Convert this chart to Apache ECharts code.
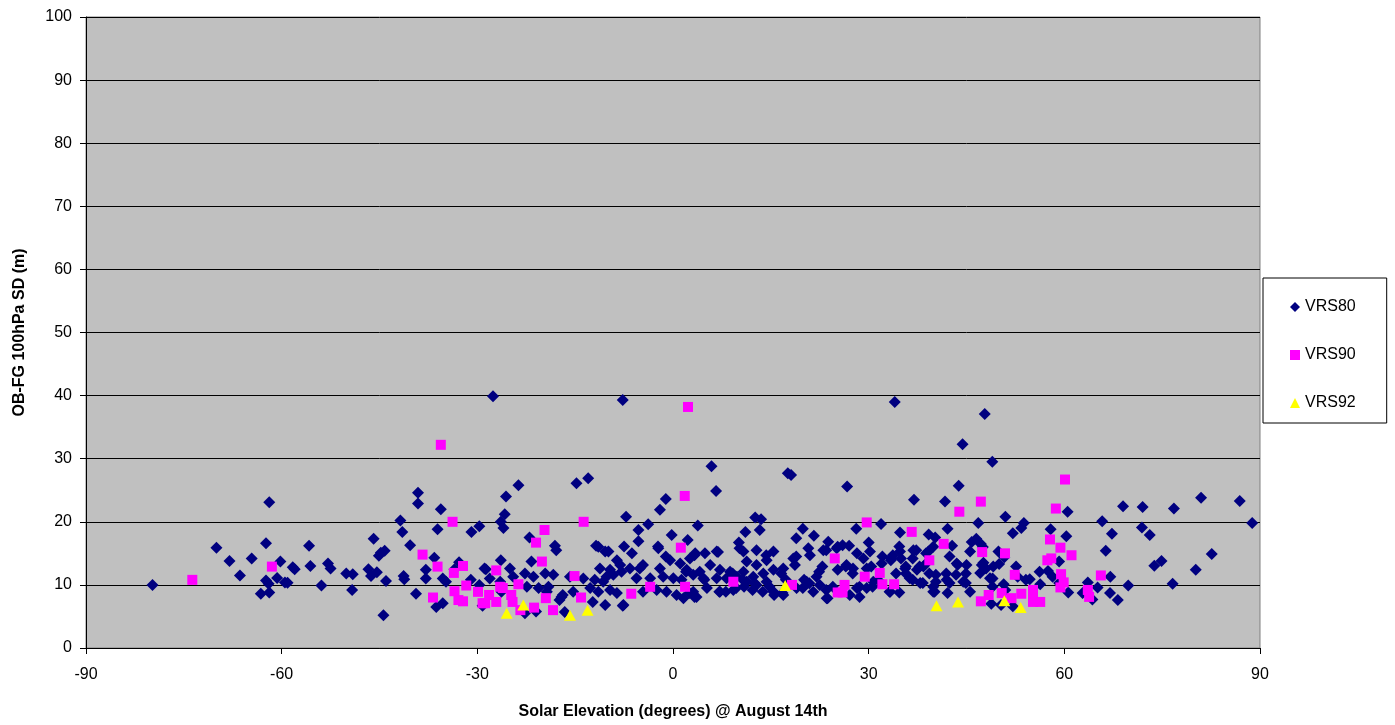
<!DOCTYPE html>
<html>
<head>
<meta charset="utf-8">
<script src="https://cdn.jsdelivr.net/npm/echarts@6/dist/echarts.min.js"></script>
<style>html,body{margin:0;padding:0;background:#fff}#c{width:1395px;height:725px}</style>
</head>
<body>
<div id="c"></div>
<script>
var xTicks = [-90, -60, -30, 0, 30, 60, 90];
var yTicks = [0, 10, 20, 30, 40, 50, 60, 70, 80, 90, 100];
var seriesNames = ['VRS80', 'VRS90', 'VRS92'];

var vrs80 = [
[-79.8,10.0],[-70.0,15.9],[-68.0,13.8],[-66.4,11.5],[-64.6,14.2],[-62.4,16.6],[-61.9,23.1],[-60.2,13.7],[-62.4,10.7],[-62.0,10.2],[-63.2,8.6],[-61.9,8.8],[-60.7,11.1],[-59.5,10.4],
[-39.1,24.6],[-39.1,22.9],[-35.6,22.0],[-41.8,20.2],[-41.5,18.4],[-36.1,18.8],[-30.9,18.4],[-29.7,19.3],[-45.9,17.3],[-55.8,16.2],[-40.3,16.3],[-44.8,15.1],[-44.2,15.4],[-45.1,14.6],[-36.6,14.3],[-32.8,13.6],[-33.5,12.5],[-58.3,12.8],[-58.0,12.5],[-55.6,13.0],[-52.9,13.4],[-52.5,12.6],[-50.1,11.8],[-49.1,11.7],[-46.7,12.5],[-46.3,11.4],[-45.4,12.0],[-41.3,11.4],[-41.2,10.9],[-37.9,12.4],[-37.9,11.0],[-59.1,10.35],[-53.9,9.9],[-49.2,9.2],[-44.0,10.6],[-39.4,8.6],[-44.4,5.2],[-35.3,11.0],[-34.8,10.5],[-36.3,6.5],[-35.3,7.1],[-31.0,10.8],[-29.7,10.0],[-28.9,12.6],[-29.2,6.7],
[-27.6,39.9],[-7.7,39.3],[34.0,39.0],[47.8,37.1],[44.4,32.3],[48.96,29.5],[5.9,28.8],[17.6,27.7],[18.1,27.4],[26.7,25.6],[43.8,25.7],[6.6,24.9],[36.95,23.5],[41.7,23.2],
[-23.7,25.8],[-25.6,24.0],[-25.8,21.2],[-26.4,20.0],[-26.0,19.0],[-14.8,26.1],[-13.0,26.9],[-22.0,17.5],[-18.1,16.2],[-17.9,15.5],[-7.2,20.8],[-1.1,23.6],[-2.0,21.9],[-3.8,19.6],[-5.3,18.7],[-5.3,16.9],[-0.2,17.9],[-11.8,16.2],[-9.9,15.3],[-7.5,16.1],[-6.3,15.0],[-2.3,16.1],[-1.1,14.5],
[-16.6,5.7],[-22.7,5.5],[-21.0,5.8],[-7.7,6.7],[-12.3,7.3],[-17.4,7.6],[-16.9,8.4],
[-26.4,13.9],[-21.7,13.7],[-28.7,12.5],[-25.0,12.6],[-24.5,11.3],[-22.7,11.8],[-21.4,11.3],[-19.6,11.8],[-18.35,11.6],[-28.1,11.0],[-26.5,10.5],[-22.4,9.7],[-20.6,9.5],[-19.1,9.7],[-15.8,11.3],[-13.75,11.0],[-12.0,10.8],[-12.7,9.5],[-10.2,11.3],[-11.2,12.6],[-10.7,10.5],[-11.45,8.9],[-10.4,6.8],[-11.45,16.05],[-10.4,15.3],[-15.3,8.9],[-17.1,8.1],[-19.35,8.9],[-26.3,8.9],
[-2.25,15.8],[-0.45,13.9],[3.4,15.0],[4.9,15.0],[6.7,15.3],[2.6,14.2],[1.1,13.4],[-8.6,13.9],[-8.1,13.15],[-9.65,12.4],[-9.15,11.6],[-7.9,12.1],[-6.6,12.6],[-5.1,12.6],[-4.6,13.15],[-2.0,12.6],[5.7,13.15],[7.2,12.4],[8.75,12.1],[4.1,12.1],[3.1,11.6],[2.1,12.4],[-5.6,11.05],[-3.5,11.05],[-1.5,11.3],[0.05,11.05],[1.3,10.8],[4.65,11.05],[6.7,11.05],[8.2,11.05],[9.8,11.3],[-9.65,9.2],[-8.6,8.7],[-4.6,8.9],[-2.5,9.2],[-1.0,8.9],[0.55,8.4],[3.1,8.9],[5.2,9.5],[7.2,8.9],[9.25,9.2],[1.6,7.9],[3.6,8.1],[-7.6,6.8],
[31.9,19.65],[3.8,19.4],[12.6,20.7],[13.5,20.4],[11.1,18.4],[13.3,18.7],[19.9,18.9],[18.9,17.4],[21.6,17.8],[28.1,18.9],[2.25,17.1],[23.8,16.85],[10.1,16.7],[10.2,15.8],[10.8,15.3],[14.3,14.7],[6.9,15.2],[3.3,14.7],[18.9,14.5],[23.5,15.5],[25.25,16.05],[26.0,16.3],[27.0,16.2],[30.0,16.7],
[12.8,15.5],[15.4,15.3],[14.35,13.9],[12.8,13.15],[11.3,13.7],[10.8,12.1],[12.3,11.3],[13.85,11.8],[15.4,12.4],[16.9,12.6],[18.45,14.2],[18.7,13.15],[20.75,15.8],[21.0,14.7],[23.05,15.5],[25.1,15.8],[28.2,15.0],[26.6,13.15],[27.6,12.6],[29.2,14.2],[29.7,12.6],[11.3,10.5],[12.8,10.0],[14.35,10.5],[15.4,8.9],[16.9,8.4],[18.95,9.5],[20.5,10.5],[22.0,11.3],[21.5,8.9],[23.55,7.9],[22.5,10.0],[28.2,9.5],[27.1,8.4],[29.7,9.5],
[3.3,8.1],[23.5,9.2],[23.7,7.9],[28.6,8.1],[2.5,8.7],[2.0,12.1],[4.8,10.8],[9.15,11.8],[10.7,10.8],[10.9,9.7],[12.5,10.25],[14.8,9.7],[16.6,11.8],[17.3,10.8],[20.1,10.8],[20.9,10.25],[22.4,12.1],[22.9,12.9],[24.5,9.7],[25.25,12.4],[26.5,12.9],[27.55,11.8],[28.6,9.7],[30.4,12.9],[30.6,9.7],[31.4,10.8],[32.1,14.5],[7.1,8.9],[8.1,8.9],[9.7,9.5],[12.2,9.2],[13.75,8.9],[15.5,8.4],[16.8,8.7],[19.9,9.5],
[34.8,18.3],[39.2,18.0],[40.2,17.5],[42.1,18.9],[42.8,16.2],[45.8,16.8],[46.5,17.3],[47.2,16.5],[47.5,16.0],[50.8,14.4],[50.0,13.3],[47.6,13.5],[48.0,12.6],[47.1,11.9],[44.9,11.8],[43.65,13.2],[42.4,14.5],[52.6,12.9],[52.85,11.3],[54.1,10.8],[54.7,10.9],[56.3,10.1],[56.2,12.1],[49.0,11.0],[49.0,9.7],[50.7,10.1],[50.95,9.2],[57.5,12.2],[58.2,11.3],[59.2,13.7],[59.2,10.3],[48.8,7.0],[50.3,6.8],[52.1,6.6],[60.6,8.8],[62.8,8.7],[46.8,19.8],[50.96,20.8],[53.8,19.8],[53.4,19.0],[52.1,18.2],[57.9,18.8],[60.3,17.7],[60.5,21.6],
[33.7,14.7],[34.7,16.1],[33.4,13.9],[34.96,14.2],[36.75,14.2],[37.3,15.5],[38.8,15.0],[37.8,12.9],[35.7,11.8],[36.75,10.8],[38.3,10.3],[39.3,11.8],[40.3,11.6],[40.3,10.5],[41.9,11.8],[42.4,10.3],[43.4,11.6],[44.9,10.3],[40.1,8.9],[42.1,8.7],[33.2,8.9],[34.7,8.8],[34.2,11.8],[35.7,12.9],[38.8,13.4],
[30.2,15.3],[32.0,13.4],[33.5,14.2],[34.8,15.3],[36.85,15.5],[39.15,15.3],[39.9,16.05],[35.6,12.6],[37.4,12.4],[38.4,12.9],[43.5,13.4],[45.0,13.15],[45.55,15.3],[47.35,13.15],[49.1,12.9],[48.6,11.05],[49.9,15.3],[30.7,10.5],[33.3,8.9],[36.3,11.05],[37.9,10.3],[39.9,9.7],[41.95,10.8],[44.5,10.5],[45.55,8.9],[39.9,8.9],
[69.0,22.45],[72.0,22.35],[76.8,22.1],[80.96,23.8],[86.9,23.3],[88.8,19.8],[65.8,20.1],[67.3,18.1],[71.9,19.1],[73.1,17.9],[66.35,15.4],[82.6,14.9],[73.8,13.05],[74.9,13.8],[80.15,12.4],[67.05,11.3],[69.8,9.9],[76.6,10.2],[63.6,10.4],[65.1,9.6],[67.0,8.7],[68.2,7.6],[64.3,7.7]
];

var vrs90 = [
[-73.7,10.8],[-61.5,12.9],[-35.6,32.2],[-33.8,20.0],[-38.4,14.8],[-36.1,12.9],[-33.6,11.9],[-32.2,13.0],[-36.8,8.0],[-33.5,9.0],[-32.9,7.6],[-32.2,7.4],[-31.7,9.9],[-29.9,8.9],[-29.2,7.1],
[-19.7,18.7],[-21.0,16.7],[-20.1,13.7],[-13.7,20.0],[-27.1,12.3],[-23.7,10.1],[-15.1,11.4],[1.8,24.1],[1.2,15.9],[-18.4,6.0],[-21.3,6.4],[-23.4,6.0],[-24.6,7.3],[-24.8,8.4],[-26.1,9.5],[-27.1,7.3],[-28.2,8.4],[-19.5,7.9],[-14.1,8.0],[-6.4,8.6],[2.3,38.2],[-26.5,9.7],[-28.8,7.1],[-3.5,9.7],[1.85,9.7],[9.25,10.5],
[29.7,19.9],[24.8,14.2],[29.4,11.3],[31.7,11.9],[32.1,10.1],[26.3,10.0],[26.0,8.8],[25.25,8.8],[18.25,10.0],
[60.1,26.7],[47.2,23.2],[43.9,21.6],[58.7,22.1],[57.8,17.2],[59.4,15.9],[61.1,14.7],[57.4,13.9],[58.0,14.2],[59.5,11.7],[59.9,10.4],[59.4,9.6],[36.6,18.4],[41.5,16.5],[47.4,15.2],[50.9,15.0],[52.4,11.6],[33.9,10.1],[47.2,7.4],[48.4,8.4],[50.4,8.7],[51.9,7.9],[53.4,8.6],[55.2,9.2],[55.2,7.3],[56.3,7.3],[55.2,8.1],[65.6,11.5],[63.8,8.1],[63.6,9.2],[39.3,13.9]
];

var vrs92 = [
[-25.5,5.5],[-22.95,6.8],[-15.8,5.2],[-13.1,6.0],[17.2,9.9],[40.4,6.7],[43.7,7.3],[50.8,7.5],[53.3,6.4]
];

var FONT = '"Liberation Sans", Arial, sans-serif';
var chart = echarts.init(document.getElementById('c'), null, {renderer: 'canvas'});
chart.setOption({
  animation: false,
  backgroundColor: '#ffffff',
  textStyle: {fontFamily: FONT},
  grid: {
    left: 86, right: 135, top: 17, bottom: 77,
    show: true, backgroundColor: '#C0C0C0', borderColor: '#808080', borderWidth: 1
  },
  legend: {
    orient: 'vertical',
    left: 1263, top: 278,
    padding: [21, 31, 12, 27],
    itemWidth: 10, itemHeight: 10, itemGap: 32,
    backgroundColor: '#ffffff', borderColor: '#000000', borderWidth: 1,
    textStyle: {fontFamily: FONT, fontSize: 16, color: '#000000', padding: [0, 0, 0, 0]},
    data: [
      {name: seriesNames[0], icon: 'diamond'},
      {name: seriesNames[1], icon: 'rect'},
      {name: seriesNames[2], icon: 'triangle'}
    ]
  },
  xAxis: {
    type: 'value', min: xTicks[0], max: xTicks[xTicks.length - 1], interval: 30,
    name: 'Solar Elevation (degrees) @ August 14th',
    nameLocation: 'middle', nameGap: 56,
    nameTextStyle: {fontFamily: FONT, fontSize: 16, fontWeight: 'bold', color: '#000'},
    axisLine: {show: true, onZero: false, lineStyle: {color: '#000', width: 1}},
    axisTick: {show: true, inside: false, length: 6, lineStyle: {color: '#000'}},
    axisLabel: {fontFamily: FONT, fontSize: 16, color: '#000', margin: 19},
    splitLine: {show: false}
  },
  yAxis: {
    type: 'value', min: yTicks[0], max: yTicks[yTicks.length - 1], interval: 10,
    name: 'OB-FG 100hPa SD (m)',
    nameLocation: 'middle', nameGap: 58,
    nameTextStyle: {fontFamily: FONT, fontSize: 16, fontWeight: 'bold', color: '#000'},
    axisLine: {show: true, onZero: false, lineStyle: {color: '#000', width: 1}},
    axisTick: {show: true, inside: false, length: 6, lineStyle: {color: '#000'}},
    axisLabel: {fontFamily: FONT, fontSize: 16, color: '#000', margin: 14},
    splitLine: {show: true, lineStyle: {color: '#000', width: 1}}
  },
  series: [
    {name: seriesNames[0], type: 'scatter', symbol: 'diamond', symbolSize: 12,
     itemStyle: {color: '#000080', opacity: 1}, data: vrs80, z: 2},
    {name: seriesNames[1], type: 'scatter', symbol: 'rect', symbolSize: 10,
     itemStyle: {color: '#FF00FF', opacity: 1}, data: vrs90, z: 3},
    {name: seriesNames[2], type: 'scatter', symbol: 'triangle', symbolSize: [12, 11],
     itemStyle: {color: '#FFFF00', opacity: 1}, data: vrs92, z: 4}
  ]
});
</script>
</body>
</html>
